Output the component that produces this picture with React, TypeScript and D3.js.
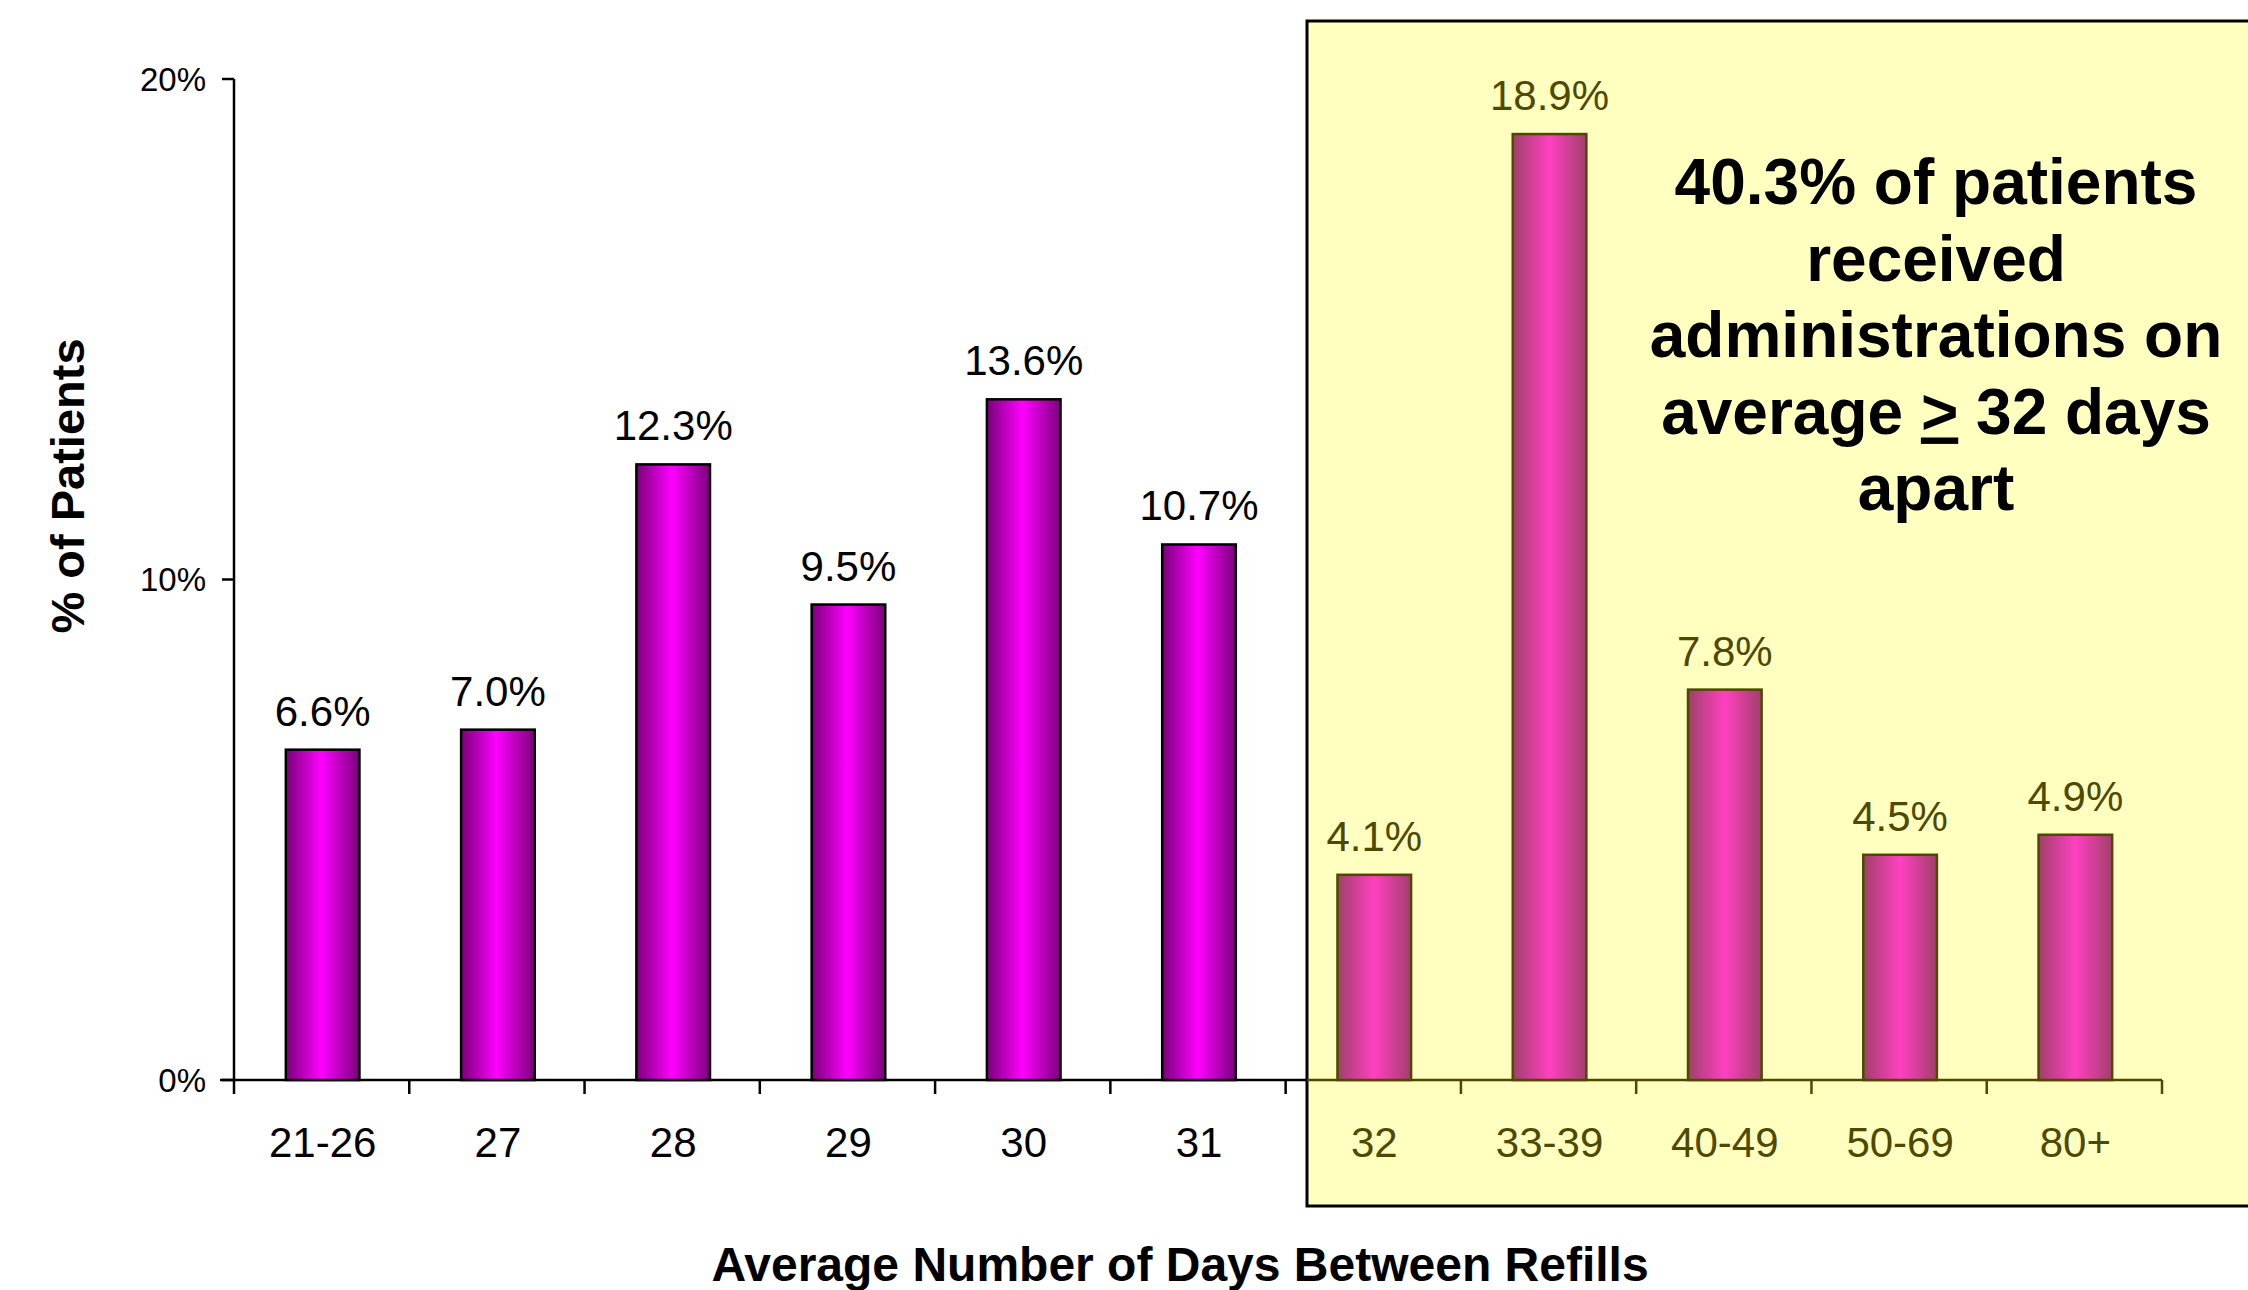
import * as d3 from "d3";

const categories = ["21-26", "27", "28", "29", "30", "31", "32", "33-39", "40-49", "50-69", "80+"];
const percentValues = [6.6, 7.0, 12.3, 9.5, 13.6, 10.7, 4.1, 18.9, 7.8, 4.5, 4.9];
const highlighted = ["32", "33-39", "40-49", "50-69", "80+"];
const yTicks = [0, 10, 20];
const annotationLines = ["40.3% of patients", "received", "administrations on", "average", "apart"];

const W = 2248;
const H = 1290;
const font = "'Liberation Sans', Arial, sans-serif";
const olive = "#4D4A00";

export default function App() {
  const x = d3.scaleBand().domain(categories).range([234, 2162]).padding(0);
  const y = d3.scaleLinear().domain([0, 20]).range([1080, 79]);
  const bw = x.bandwidth() * 0.42;
  const fmt = d3.format(".1f");
  const box = { x: 1307, y: 21, w: 1000, h: 1185 };
  const annoX = 1936;

  return (
    <svg width={W} height={H} style={{ position: "absolute", left: 0, top: 0, display: "block", background: "#fff" }}>
      <defs>
        <linearGradient id="gMag" x1="0" x2="1" y1="0" y2="0">
          <stop offset="0" stopColor="#7a007a" />
          <stop offset="0.48" stopColor="#ff00ff" />
          <stop offset="1" stopColor="#7a007a" />
        </linearGradient>
        <linearGradient id="gPink" x1="0" x2="1" y1="0" y2="0">
          <stop offset="0" stopColor="#a0406a" />
          <stop offset="0.5" stopColor="#ff40c0" />
          <stop offset="1" stopColor="#a0406a" />
        </linearGradient>
      </defs>

      {/* highlight box */}
      <rect x={box.x} y={box.y} width={box.w} height={box.h} fill="#FFFFC0" stroke="#000" strokeWidth={3} />

      {/* y axis */}
      <line x1={x.range()[0]} x2={x.range()[0]} y1={y(20)} y2={y(0)} stroke="#000" strokeWidth={2.5} />
      {yTicks.map((t) => (
        <g key={t}>
          <line x1={x.range()[0] - 12} x2={x.range()[0]} y1={y(t)} y2={y(t)} stroke="#000" strokeWidth={2.5} />
          <text x={206} y={y(t)} dy="0.36em" textAnchor="end" fontFamily={font} fontSize={33} fill="#000">
            {t}%
          </text>
        </g>
      ))}

      {/* x axis line + ticks */}
      <line x1={x.range()[0] - 14} x2={box.x} y1={y(0)} y2={y(0)} stroke="#000" strokeWidth={2.5} />
      <line x1={box.x} x2={x.range()[1]} y1={y(0)} y2={y(0)} stroke={olive} strokeWidth={2.5} />
      {[...categories.map((c) => x(c) as number), x.range()[1]].map((tx, i) => (
        <line key={i} x1={tx} x2={tx} y1={y(0)} y2={y(0) + 14} stroke={tx > box.x ? olive : "#000"} strokeWidth={2.5} />
      ))}

      {/* bars */}
      {categories.map((c, i) => {
        const hi = highlighted.includes(c);
        const v = percentValues[i];
        const bx = (x(c) as number) + (x.bandwidth() - bw) / 2 + 1;
        const cx = (x(c) as number) + x.bandwidth() / 2 + 1;
        return (
          <g key={c}>
            <rect
              x={bx}
              y={y(v)}
              width={bw}
              height={y(0) - y(v)}
              fill={hi ? "url(#gPink)" : "url(#gMag)"}
              stroke={hi ? olive : "#000"}
              strokeWidth={2.5}
            />
            <text x={cx} y={y(v) - 24} textAnchor="middle" fontFamily={font} fontSize={42} fill={hi ? olive : "#000"}>
              {fmt(v)}%
            </text>
            <text x={cx} y={1157} textAnchor="middle" fontFamily={font} fontSize={42} fill={hi ? olive : "#000"}>
              {c}
            </text>
          </g>
        );
      })}

      {/* axis titles */}
      <text
        transform={`translate(84,486) rotate(-90)`}
        textAnchor="middle"
        fontFamily={font}
        fontWeight="bold"
        fontSize={47}
        fill="#000"
      >
        % of Patients
      </text>
      <text x={1180} y={1281} textAnchor="middle" fontFamily={font} fontWeight="bold" fontSize={48} fill="#000">
        Average Number of Days Between Refills
      </text>

      {/* annotation */}
      <text textAnchor="middle" fontFamily={font} fontWeight="bold" fontSize={64} fill="#000">
        {annotationLines.map((line, i) =>
          line === "average" ? (
            <tspan key={i} x={annoX} y={204 + i * 76.5}>
              average <tspan style={{ textDecoration: "underline" }}>&gt;</tspan> 32 days
            </tspan>
          ) : (
            <tspan key={i} x={annoX} y={204 + i * 76.5}>
              {line}
            </tspan>
          )
        )}
      </text>
    </svg>
  );
}
